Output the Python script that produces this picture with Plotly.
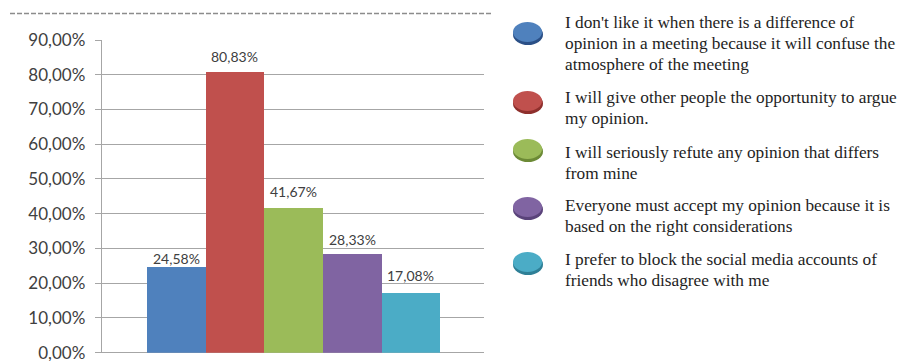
import plotly.graph_objects as go

# ---- data ----
categories = ["Statement 1", "Statement 2", "Statement 3", "Statement 4", "Statement 5"]
values = [24.58, 80.83, 41.67, 28.33, 17.08]
colors = ["#4F81BD", "#C0504D", "#9BBB59", "#8064A2", "#4BACC6"]
rim_colors = ["#2A4F86", "#8E2F2C", "#6C8A36", "#5A437A", "#2E7F96"]
legend_lines = [
    ["I don't like it when there is a difference of",
     "opinion in a meeting because it will confuse the",
     "atmosphere of the meeting"],
    ["I will give other people the opportunity to argue",
     "my opinion."],
    ["I will seriously refute any opinion that differs",
     "from mine"],
    ["Everyone must accept my opinion because it is",
     "based on the right considerations"],
    ["I prefer to block the social media accounts of",
     "friends who disagree with me"],
]
tick_vals = [0, 10, 20, 30, 40, 50, 60, 70, 80, 90]
tick_text = [f"{v:.2f}".replace(".", ",") + "%" for v in tick_vals]
value_text = [f"{v:.2f}".replace(".", ",") + "%" for v in values]

# style: pixel raise of each value label above its bar top
label_raise = [9, 15, 16, 15, 18]

W, H = 904, 361
def px(x):
    return x / W
def py(y):
    return (H - y) / H

fig = go.Figure()
fig.add_trace(go.Bar(
    x=categories, y=values, marker=dict(color=colors, line=dict(width=0)),
    showlegend=False, hoverinfo="skip",
))

shapes = []
# top dashed border
shapes.append(dict(type="line", xref="paper", yref="paper",
                   x0=px(10), x1=px(493), y0=py(13.5), y1=py(13.5),
                   line=dict(color="#8C8C8C", width=1.5, dash="5px,2px")))

annotations = []
for cat, v, t, r in zip(categories, values, value_text, label_raise):
    annotations.append(dict(
        x=cat, y=v, xref="x", yref="y", yshift=r, xanchor="center", yanchor="middle",
        showarrow=False, text=t,
        font=dict(family="Lato", size=14, color="#404040"),
    ))

marker_y = [33, 102, 150, 208, 263]
first_line_y = [23, 98, 152, 205, 259]
pitch = 21
for i, lines in enumerate(legend_lines):
    cx, cy = 528, marker_y[i]
    shapes.append(dict(type="circle", xref="paper", yref="paper",
                       x0=px(cx - 15), x1=px(cx + 15), y0=py(cy - 9), y1=py(cy + 12),
                       fillcolor=rim_colors[i], line=dict(width=0)))
    shapes.append(dict(type="circle", xref="paper", yref="paper",
                       x0=px(cx - 15), x1=px(cx + 14), y0=py(cy - 11), y1=py(cy + 9),
                       fillcolor=colors[i], line=dict(width=0)))
    for j, ln in enumerate(lines):
        annotations.append(dict(
            x=px(563), y=py(first_line_y[i] + j * pitch), xref="paper", yref="paper",
            xanchor="left", yanchor="middle", align="left", showarrow=False,
            text=ln, font=dict(family="Liberation Serif", size=17.3, color="#1E1E1E"),
        ))

fig.update_layout(
    width=W, height=H, autosize=False,
    margin=dict(l=0, r=0, t=0, b=0, pad=0),
    paper_bgcolor="white", plot_bgcolor="white",
    showlegend=False,
    bargap=0,
    shapes=shapes, annotations=annotations,
    xaxis=dict(domain=[px(101.7), px(484)], range=[-1.271, 5.249], autorange=False,
               automargin=False,
               showticklabels=False, showgrid=False, zeroline=False,
               showline=False, fixedrange=True),
    yaxis=dict(domain=[py(352.7), py(40)], range=[0, 90], autorange=False,
               automargin=False,
               tickmode="array", tickvals=tick_vals, ticktext=tick_text,
               ticklabeloverflow="allow",
               showgrid=True, gridcolor="#A6A6A6", gridwidth=1,
               zeroline=True, zerolinecolor="#A6A6A6", zerolinewidth=1,
               showline=True, linecolor="#A6A6A6", linewidth=1,
               ticks="outside", ticklen=6, tickcolor="#A6A6A6",
               ticklabelstandoff=6,
               tickfont=dict(family="Lato", size=17, color="#404040")),
)

fig.write_html("out.html")
